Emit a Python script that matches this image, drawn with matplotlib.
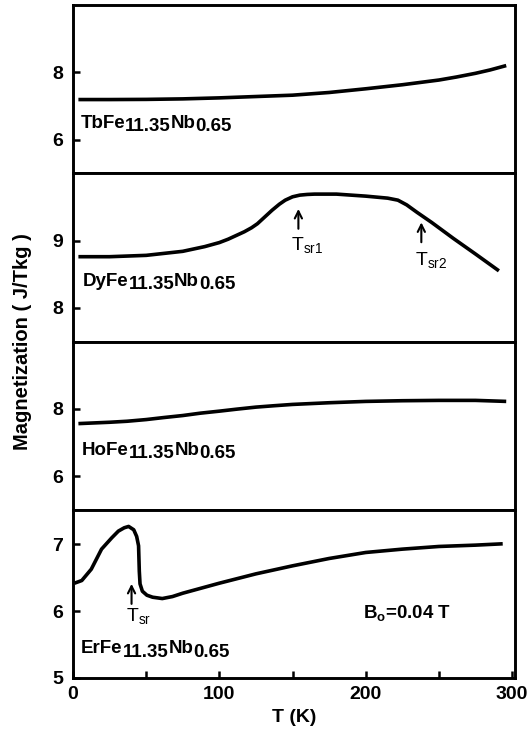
import numpy as np
import matplotlib
matplotlib.use("Agg")
import matplotlib.pyplot as plt
from matplotlib.ticker import MultipleLocator, FixedLocator

# ---------------------------------------------------------------
# magnetization vs temperature, RFe11.35Nb0.65 (R = Tb, Dy, Ho, Er)
# ---------------------------------------------------------------

T_tb = [3.7, 25, 50, 75, 100, 125, 150, 175, 200, 225, 250, 262, 275, 285, 296]
M_tb = [7.19, 7.19, 7.195, 7.21, 7.24, 7.28, 7.32, 7.40, 7.51, 7.63, 7.77,
        7.86, 7.97, 8.07, 8.20]

T_dy = [3.7, 25, 50, 75, 90, 100, 106, 112, 117, 122, 126, 131, 136, 141, 145,
        150, 155, 160, 165, 180, 200, 215, 222, 228, 235, 245, 260, 275, 291]
M_dy = [8.76, 8.76, 8.78, 8.84, 8.91, 8.97, 9.02, 9.08, 9.13, 9.19, 9.25, 9.35,
        9.45, 9.54, 9.60, 9.65, 9.675, 9.685, 9.69, 9.69, 9.66, 9.63, 9.60,
        9.53, 9.42, 9.27, 9.03, 8.80, 8.55]

T_ho = [3.7, 25, 37, 50, 62, 75, 87, 100, 112, 125, 137, 150, 175, 200, 225,
        250, 275, 296]
M_ho = [7.56, 7.60, 7.63, 7.68, 7.74, 7.80, 7.87, 7.93, 7.99, 8.05, 8.09, 8.13,
        8.18, 8.22, 8.24, 8.25, 8.25, 8.22]

T_er = [1, 6, 12.5, 19.5, 26.5, 31, 35, 38, 41.5, 43.5, 44.8, 45.3, 45.8, 47.4,
        50.5, 54.4, 61, 68, 75, 100, 125, 150, 175, 200, 225, 250, 275, 293.6]
M_er = [6.42, 6.46, 6.63, 6.93, 7.10, 7.20, 7.25, 7.27, 7.22, 7.12, 6.98, 6.60,
        6.41, 6.30, 6.24, 6.21, 6.19, 6.22, 6.27, 6.42, 6.56, 6.68, 6.79, 6.88,
        6.93, 6.97, 6.99, 7.01]

# spin-reorientation markers
tsr_dy = [154, 238]
tsr_er = 40

panels = [
    ("Tb", T_tb, M_tb, (5, 10), [6, 8]),
    ("Dy", T_dy, M_dy, (7.5, 10), [8, 9]),
    ("Ho", T_ho, M_ho, (5, 10), [6, 8]),
    ("Er", T_er, M_er, (5, 7.52), [5, 6, 7]),
]

plt.rcParams["font.family"] = ["Liberation Sans", "DejaVu Sans"]
plt.rcParams["font.weight"] = "bold"
plt.rcParams["mathtext.fontset"] = "custom"
plt.rcParams["mathtext.rm"] = "Liberation Sans"
plt.rcParams["mathtext.bf"] = "Liberation Sans:bold"

FS = 13.5
SUB = 2.6  # subscript drop in points


def formula(ax, x, y, pieces):
    # chain pieces so that every other one sits lower, same font size
    t = ax.text(x, y, pieces[0], fontsize=FS, fontweight="bold",
                ha="left", va="baseline")
    for i, p in enumerate(pieces[1:]):
        shift = -SUB if i % 2 == 0 else SUB
        t = ax.annotate(p, xy=(1, 0), xycoords=t, xytext=(0, shift),
                        textcoords="offset points", ha="left", va="bottom",
                        fontsize=FS, fontweight="bold")
    return t


def tsr(ax, x, y0, y1, ytext, label, xtext):
    ax.annotate("", xy=(x, y1), xytext=(x, y0),
                arrowprops=dict(arrowstyle="->", lw=1.5, color="black",
                                shrinkA=0, shrinkB=0, mutation_scale=13))
    ax.text(xtext, ytext, label, fontsize=14, fontweight="normal",
            ha="left", va="baseline")


fig = plt.figure(figsize=(5.32, 7.38), dpi=100)
gs = fig.add_gridspec(4, 1, left=73 / 532, right=515 / 532,
                      top=1 - 5 / 738, bottom=1 - 678 / 738, hspace=0)

axes = []
for i, (name, T, M, ylim, yt) in enumerate(panels):
    ax = fig.add_subplot(gs[i])
    ax.plot(T, M, color="black", lw=2.6, solid_capstyle="butt",
            solid_joinstyle="round")
    ax.set_xlim(0, 302)
    ax.set_ylim(*ylim)
    ax.yaxis.set_major_locator(FixedLocator(yt))
    ax.tick_params(axis="y", direction="in", length=5, width=1.8,
                   labelsize=14, pad=7, right=False)
    for s in ax.spines.values():
        s.set_linewidth(2.1)
    if i < 3:
        ax.tick_params(axis="x", bottom=False, labelbottom=False)
    else:
        ax.xaxis.set_major_locator(MultipleLocator(100))
        ax.xaxis.set_minor_locator(MultipleLocator(50))
        ax.tick_params(axis="x", which="both", direction="in", length=5,
                       width=1.8, labelsize=14, pad=6, top=False)
    for lab in ax.get_xticklabels() + ax.get_yticklabels():
        lab.set_fontweight("bold")
    axes.append(ax)

formula(axes[0], 5.1, 6.35, ["TbFe", "11.35", "Nb", "0.65"])
formula(axes[1], 6.7, 8.33, ["DyFe", "11.35", "Nb", "0.65"])
formula(axes[2], 6.0, 6.64, ["HoFe", "11.35", "Nb", "0.65"])
formula(axes[3], 5.6, 5.37, ["ErFe", "11.35", "Nb", "0.65"])

tsr(axes[1], tsr_dy[0], 9.175, 9.47, 8.85, r"T$_{\mathregular{sr1}}$", 149)
tsr(axes[1], tsr_dy[1], 8.975, 9.27, 8.625, r"T$_{\mathregular{sr2}}$", 233.5)
tsr(axes[3], tsr_er, 6.11, 6.41, 5.84, r"T$_{\mathregular{sr}}$", 36.5)

axes[3].text(198.4, 5.89, r"B$_{\mathregular{o}}$=0.04 T", fontsize=FS,
             fontweight="bold", ha="left", va="baseline")

axes[3].set_xlabel("T (K)", fontsize=14, fontweight="bold", labelpad=4)
fig.text(0.042, (1 - 5 / 738 + 1 - 678 / 738) / 2, "Magnetization ( J/Tkg )",
         rotation=90, fontsize=14.5, fontweight="bold", ha="center",
         va="center")

fig.savefig("out.png", dpi=100)
